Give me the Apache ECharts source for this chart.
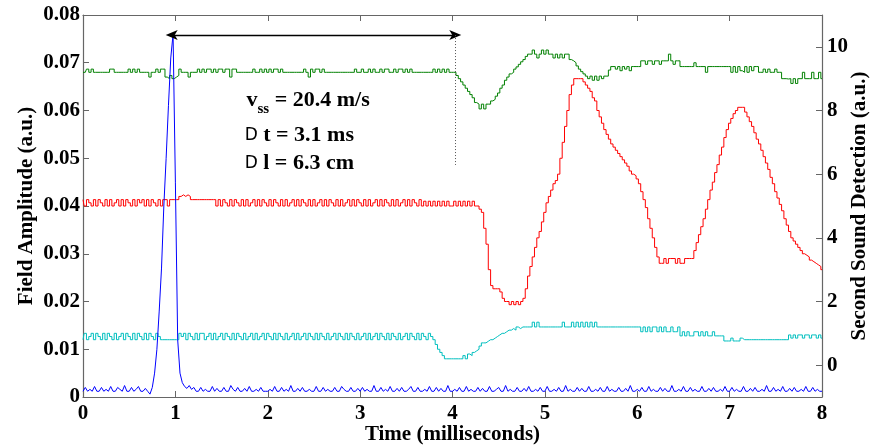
<!DOCTYPE html>
<html><head><meta charset="utf-8">
<script src="https://cdn.jsdelivr.net/npm/echarts@6/dist/echarts.min.js"></script>
<style>html,body{margin:0;padding:0;background:#fff}#c{width:882px;height:447px}</style>
</head><body><div id="c"></div>
<script>
const sampleStep_ms = 0.025;
const xTickValues = [0,1,2,3,4,5,6,7,8];
const rightTickValues = [0,2,4,6,8,10];

// Field amplitude (left axis), in units of 1e-3 a.u.
const fieldAmp_milli = [
1.2,2,1.2,1.6,1.2,2.2,1.2,1.2,2,1.2, 1.6,1.2,2.2,1.2,1.2,2,1.6,1.2,2.4,1.2, 1.2,2,1.2,1.6,2.2,1.2,1.2,1.8,1.2,0.6, 2,5,10,18,27,40,50,61,71,76,
45,12,5,3,2.2,1.8,2.4,1.6,2,1.2, 1.2,2,1.2,1.6,1.2,1.2,2.2,1.2,1.8,1.2, 1.2,2,1.2,1.2,2.4,1.6,1.2,2,1.2,1.2, 1.8,1.2,2.2,1.2,1.2,1.6,1.2,2,1.2,1.2,
1.2,1.6,1.2,2.2,1.2,1.2,2,1.2,1.6,1.2, 2.4,1.2,1.2,1.8,1.2,2,1.2,1.2,1.6,1.2, 1.2,2.2,1.2,1.2,2,1.2,1.6,1.2,1.2,2, 1.2,1.2,2.2,1.6,1.2,1.2,2,1.2,1.2,1.8,
1.2,2,1.2,1.6,1.2,1.2,2.4,1.2,1.2,2, 1.2,1.6,1.2,2.2,1.2,1.2,1.8,1.2,2,1.2, 1.2,1.6,2.2,1.2,1.2,2,1.2,1.2,1.6,1.2, 2.2,1.2,1.2,2,1.2,1.8,1.2,1.2,2.4,1.2,
1.2,1.6,1.2,2,1.2,1.2,2.2,1.2,1.6,1.2, 1.2,2,1.2,1.8,1.2,1.2,2.2,1.2,1.2,1.6, 2,1.2,1.2,2.4,1.2,1.6,1.2,1.2,2,1.2, 1.2,1.8,1.2,2.2,1.2,1.2,1.6,1.2,2,1.2,
1.2,2.2,1.2,1.2,1.6,1.2,2,1.2,1.2,2.4, 1.2,1.6,1.2,1.2,2,1.2,1.8,1.2,1.2,2.2, 1.2,1.2,1.6,1.2,2,1.2,1.2,2.2,1.2,1.6, 1.2,1.2,2,1.2,1.2,1.8,1.2,2.4,1.2,1.2,
1.6,1.2,2,1.2,1.2,2.2,1.2,1.6,1.2,1.2, 2,1.2,1.8,1.2,1.2,2.4,1.2,1.2,1.6,1.2, 2.2,1.2,1.2,2,1.2,1.6,1.2,1.2,2.2,1.2, 1.2,1.8,1.2,2,1.2,1.2,1.6,1.2,2.2,1.2,
1.2,2,1.2,1.6,1.2,1.2,2.2,1.2,1.2,1.8, 1.2,2,1.2,1.2,1.6,1.2,2.4,1.2,1.2,2, 1.2,1.6,1.2,2.2,1.2,1.2,1.8,1.2,2,1.2, 1.2,1.6,1.2,2.2,1.2,1.2,2,1.2,1.6,1.2,
1.2];

// Second sound detection (right axis)
const greenTrace = [
9.2,9.2,9.3,9.2,9.3,9.2,9.2,9.2,9.2,9.2, 9.2,9.2,9.3,9.3,9.2,9.2,9.2,9.2,9.2,9.2, 9.3,9.2,9.3,9.2,9.3,9.2,9.2,9.2,9.2,9.05, 9.2,9.2,9.3,9.2,9.3,9.3,9.05,9.0,9.1,9.0,
9.05,9.1,9.3,9.2,9.2,9.2,9.05,9.2,9.2,9.2, 9.3,9.2,9.3,9.2,9.3,9.3,9.2,9.3,9.2,9.3, 9.3,9.2,9.3,9.3,9.05,9.3,9.3,9.2,9.2,9.2, 9.2,9.2,9.2,9.2,9.3,9.2,9.2,9.3,9.2,9.3,
9.2,9.3,9.2,9.3,9.3,9.2,9.3,9.2,9.2,9.2, 9.2,9.2,9.2,9.2,9.2,9.2,9.3,9.2,9.05,9.3, 9.2,9.3,9.3,9.2,9.3,9.2,9.2,9.2,9.2,9.2, 9.2,9.2,9.2,9.2,9.2,9.2,9.2,9.2,9.3,9.2,
9.2,9.3,9.2,9.2,9.3,9.2,9.3,9.2,9.2,9.3, 9.2,9.3,9.3,9.2,9.2,9.3,9.2,9.3,9.3,9.2, 9.3,9.2,9.3,9.2,9.2,9.2,9.2,9.2,9.2,9.2, 9.2,9.2,9.3,9.2,9.3,9.2,9.3,9.2,9.3,9.2,
9.2,9.2,9.1,9.0,8.9,8.8,8.7,8.6,8.5,8.4, 8.25,8.2,8.05,8.2,8.05,8.2,8.2,8.3,8.35,8.45, 8.55,8.7,8.8,8.95,9.05,9.15,9.2,9.3,9.37,9.45, 9.53,9.6,9.7,9.77,9.77,9.9,9.77,9.65,9.77,9.9,
9.77,9.9,9.77,9.77,9.65,9.77,9.65,9.77,9.65,9.77, 9.77,9.6,9.56,9.5,9.4,9.3,9.22,9.15,9.08,9.0, 9.08,8.95,9.08,8.95,9.08,9.0,9.08,9.08,9.27,9.38, 9.38,9.3,9.38,9.25,9.38,9.3,9.38,9.25,9.38,9.38,
9.38,9.38,9.56,9.56,9.45,9.56,9.56,9.45,9.56,9.56, 9.45,9.56,9.56,9.56,9.77,9.56,9.45,9.56,9.56,9.38, 9.38,9.38,9.38,9.38,9.38,9.5,9.38,9.38,9.38,9.38, 9.2,9.38,9.38,9.38,9.38,9.38,9.38,9.38,9.38,9.38,
9.38,9.2,9.38,9.2,9.38,9.25,9.2,9.38,9.2,9.38, 9.25,9.38,9.38,9.2,9.2,9.3,9.2,9.3,9.2,9.2, 9.3,9.2,9.2,9.0,9.0,8.99,9.0,8.85,9.0,8.85, 9.0,9.0,9.2,9.0,9.0,9.0,9.2,9.0,9.0,9.2,
9.0];

const redTrace = [
5.2,5.0,5.2,5.1,5.0,5.2,5.0,5.2,5.1,5.0, 5.2,5.0,5.2,5.0,5.1,5.2,5.0,5.2,5.0,5.2, 5.1,5.0,5.2,5.0,5.2,5.1,5.2,5.0,5.2,5.0, 5.2,5.1,5.0,5.2,5.0,5.2,5.2,5.0,5.2,5.2,
5.2,5.2,5.3,5.35,5.3,5.35,5.3,5.2,5.2,5.2, 5.2,5.2,5.2,5.2,5.2,5.2,5.2,5.2,5.0,5.2, 5.0,5.2,5.1,5.0,5.2,5.0,5.2,5.1,5.0,5.2, 5.0,5.2,5.0,5.1,5.2,5.0,5.2,5.0,5.2,5.1,
5.0,5.2,5.0,5.2,5.1,5.0,5.2,5.0,5.2,5.0, 5.1,5.2,5.0,5.2,5.0,5.2,5.1,5.0,5.2,5.0, 5.2,5.0,5.1,5.2,5.0,5.2,5.0,5.2,5.1,5.0, 5.2,5.0,5.2,5.0,5.1,5.2,5.0,5.2,5.0,5.2,
5.1,5.0,5.2,5.0,5.2,5.0,5.1,5.2,5.0,5.2, 5.0,5.2,5.1,5.0,5.2,5.0,5.2,5.0,5.1,5.2, 5.0,5.2,5.0,5.2,5.1,5.0,5.2,5.0,5.15,5.0, 5.15,5.0,5.15,5.0,5.15,5.0,5.15,5.0,5.15,5.0,
5.0,5.15,5.0,5.15,5.0,5.15,5.0,5.15,5.0,5.15, 5.0,5.0,4.9,4.8,4.3,3.8,3.0,2.5,2.4,2.4, 2.4,2.3,2.1,2.0,2.0,1.9,2.0,1.9,2.0,1.9, 2.0,2.1,2.4,2.8,3.1,3.4,3.7,4.0,4.2,4.5,
4.8,5.1,5.3,5.5,5.7,5.8,6.0,6.5,7.0,7.5, 8.0,8.5,8.8,9.0,9.0,9.0,9.0,8.9,8.8,8.7, 8.6,8.4,8.3,8.0,7.8,7.6,7.4,7.25,7.1,6.95, 6.85,6.75,6.65,6.55,6.45,6.35,6.25,6.1,6.0,5.95,
5.85,5.7,5.45,5.2,4.95,4.6,4.3,4.0,3.7,3.4, 3.2,3.2,3.35,3.2,3.35,3.35,3.35,3.2,3.35,3.2, 3.2,3.35,3.35,3.35,3.35,3.6,3.85,4.1,4.35,4.6, 4.9,5.2,5.5,5.75,6.05,6.3,6.6,6.85,7.15,7.4,
7.6,7.75,7.9,8.0,8.1,8.1,8.1,7.95,7.8,7.65, 7.5,7.3,7.1,6.95,6.75,6.55,6.35,6.15,5.9,5.7, 5.45,5.25,5.05,4.85,4.6,4.4,4.2,4.0,3.9,3.8, 3.7,3.6,3.5,3.45,3.4,3.3,3.25,3.2,3.15,3.1,
3.0];

const cyanTrace = [
0.8,1.0,0.8,0.9,1.0,0.8,1.0,0.9,0.8,1.0, 0.8,1.0,0.9,0.8,1.0,0.8,0.9,1.0,0.8,1.0, 0.9,0.8,1.0,0.8,1.0,0.9,0.8,1.0,0.8,1.0, 0.9,0.8,1.0,0.9,0.8,0.8,0.8,0.8,0.8,0.8,
0.8,0.8,1.0,0.9,1.0,0.8,1.0,0.9,0.8,1.0, 0.8,1.0,1.0,0.8,0.9,1.0,0.8,1.0,0.8,0.9, 1.0,0.8,1.0,0.9,0.8,1.0,0.8,1.0,0.9,0.8, 1.0,0.8,0.9,1.0,0.8,1.0,0.8,0.9,1.0,0.8,
1.0,0.9,0.8,1.0,0.8,1.0,0.9,0.8,1.0,0.8, 0.9,1.0,0.8,1.0,0.8,0.9,1.0,0.8,1.0,0.9, 0.8,1.0,0.8,1.0,0.9,0.8,1.0,0.8,0.9,1.0, 0.8,1.0,0.9,0.8,1.0,0.8,1.0,0.9,0.8,1.0,
0.8,0.9,1.0,0.8,1.0,0.8,0.9,1.0,0.8,1.0, 0.9,0.8,1.0,0.8,1.0,0.9,0.8,1.0,0.8,0.9, 1.0,0.8,1.0,0.9,0.8,1.0,0.8,1.0,0.9,0.8, 1.0,0.9,0.8,0.65,0.5,0.4,0.3,0.2,0.2,0.2,
0.2,0.2,0.2,0.2,0.2,0.3,0.2,0.35,0.3,0.4, 0.45,0.5,0.6,0.7,0.7,0.75,0.8,0.8,0.85,0.9, 0.95,1.0,1.0,1.05,1.1,1.1,1.15,1.1,1.2,1.15, 1.2,1.2,1.2,1.2,1.2,1.35,1.2,1.35,1.2,1.2,
1.2,1.2,1.2,1.2,1.2,1.2,1.2,1.2,1.35,1.2, 1.2,1.2,1.35,1.2,1.35,1.2,1.35,1.2,1.35,1.2, 1.35,1.2,1.35,1.2,1.2,1.2,1.2,1.2,1.2,1.2, 1.2,1.2,1.2,1.2,1.2,1.2,1.2,1.2,1.2,1.2,
1.2,1.2,1.05,1.2,1.05,1.2,1.05,1.2,1.2,1.05, 1.2,1.05,1.2,1.05,1.05,1.2,1.05,1.05,1.2,0.92, 1.05,0.92,1.05,0.92,0.92,1.05,1.05,0.92,1.05,0.92, 1.05,0.92,0.92,1.05,0.92,0.92,0.92,0.92,0.76,0.76,
0.76,0.85,0.76,0.76,0.76,0.85,0.8,0.8,0.8,0.8, 0.8,0.8,0.8,0.8,0.8,0.8,0.8,0.8,0.8,0.8, 0.8,0.8,0.8,0.8,0.8,0.8,0.95,0.85,0.95,0.85, 0.95,0.95,0.85,0.95,0.95,0.85,0.95,0.95,0.85,0.95,
0.85];

// annotation (data coordinates on the left axis)
const arrowFrom = [0.96, 0.0758];
const arrowTo = [4.03, 0.0758];
const dottedFrom = [4.03, 0.0758];
const dottedTo = [4.03, 0.0486];
const noteAnchor = [1.77, 0.0622];
const noteLine2 = [1.75, 0.0548];
const noteLine3 = [1.75, 0.0489];
const leftMinTick = [0, 0];

function pairs(vals, scale) {
  return vals.map((v, i) => [+(i * sampleStep_ms).toFixed(3), v * scale]);
}

const chart = echarts.init(document.getElementById('c'));
const serif = '"Liberation Serif","Times New Roman",serif';
const axisCol = '#666';
const arrowHead = 'path://M5,0 L10,12 L5,9 L0,12 Z';

const lineDefaults = {type:'line', symbol:'none', animation:false, silent:true};

chart.setOption({
  animation: false,
  grid: {left: 83, right: 60, top: 15, bottom: 50, containLabel: false, outerBoundsMode: 'none'},
  xAxis: [{
    type: 'value', min: 0, max: 8, interval: 1, position: 'bottom',
    axisLine: {show: true, onZero: false, lineStyle: {color: axisCol, width: 1.2}},
    axisTick: {show: true, inside: true, length: 6, lineStyle: {color: axisCol}},
    axisLabel: {color: '#000', fontFamily: serif, fontWeight: 'bold', fontSize: 21, margin: 6},
    splitLine: {show: false},
    name: 'Time (milliseconds)', nameLocation: 'middle', nameGap: 27, nameMoveOverlap: false,
    nameTextStyle: {color: '#000', fontFamily: serif, fontWeight: 'bold', fontSize: 21}
  }, {
    type: 'value', min: 0, max: 8, interval: 1, position: 'top',
    axisLine: {show: true, onZero: false, lineStyle: {color: axisCol, width: 1.2}},
    axisTick: {show: true, inside: true, length: 6, lineStyle: {color: axisCol}},
    axisLabel: {show: false}, splitLine: {show: false}
  }],
  yAxis: [{
    type: 'value', min: 0, max: 0.08, interval: 0.01, position: 'left',
    axisLine: {show: true, onZero: false, lineStyle: {color: axisCol, width: 1.2}},
    axisTick: {show: true, inside: true, length: 6, lineStyle: {color: axisCol}},
    axisLabel: {color: '#000', fontFamily: serif, fontWeight: 'bold', fontSize: 21, margin: 3,
      showMinLabel: false,
      formatter: v => (Math.abs(v) < 1e-9 ? '0' : v.toFixed(2))},
    splitLine: {show: false},
    name: 'Field Amplitude (a.u.)', nameLocation: 'middle', nameGap: 46, nameRotate: 90, nameMoveOverlap: false,
    nameTextStyle: {color: '#000', fontFamily: serif, fontWeight: 'bold', fontSize: 21}
  }, {
    type: 'value', min: -1, max: 11, interval: 1, position: 'right',
    axisLine: {show: true, onZero: false, lineStyle: {color: axisCol, width: 1.2}},
    axisTick: {show: true, inside: true, length: 6, lineStyle: {color: axisCol}, customValues: rightTickValues},
    axisLabel: {color: '#000', fontFamily: serif, fontWeight: 'bold', fontSize: 21, margin: 5,
      customValues: rightTickValues,
      formatter: v => (rightTickValues.indexOf(Math.round(v)) >= 0 && Math.abs(v - Math.round(v)) < 1e-6 ? String(Math.round(v)) : '')},
    splitLine: {show: false},
    name: 'Second Sound Detection (a.u.)', nameLocation: 'middle', nameGap: 27, nameRotate: 90, nameMoveOverlap: false,
    nameTextStyle: {color: '#000', fontFamily: serif, fontWeight: 'bold', fontSize: 21}
  }],
  series: [
    Object.assign({}, lineDefaults, {name: 'cyan', xAxisIndex: 0, yAxisIndex: 1, step: 'middle',
      data: pairs(cyanTrace, 1), lineStyle: {color: '#00bfbf', width: 1}}),
    Object.assign({}, lineDefaults, {name: 'red', xAxisIndex: 0, yAxisIndex: 1, step: 'middle',
      data: pairs(redTrace, 1), lineStyle: {color: '#ff0000', width: 1}}),
    Object.assign({}, lineDefaults, {name: 'green', xAxisIndex: 0, yAxisIndex: 1, step: 'middle',
      data: pairs(greenTrace, 1), lineStyle: {color: '#008000', width: 1}}),
    Object.assign({}, lineDefaults, {name: 'field', xAxisIndex: 0, yAxisIndex: 0,
      data: pairs(fieldAmp_milli, 0.001), lineStyle: {color: '#0000ff', width: 1},
      markLine: {
        silent: true, animation: false, label: {show: false},
        data: [
          [{coord: arrowFrom, symbol: arrowHead, symbolSize: [10, 12], lineStyle: {color: '#000', width: 1.3, type: 'solid'}},
           {coord: arrowTo, symbol: arrowHead, symbolSize: [10, 12], lineStyle: {color: '#000', width: 1.3, type: 'solid'}}],
          [{coord: dottedFrom, symbol: 'none', lineStyle: {color: '#555', width: 1, type: [1, 2]}},
           {coord: dottedTo, symbol: 'none', lineStyle: {color: '#555', width: 1, type: [1, 2]}}]
        ]
      }})
  ]
});

function px(c) { return chart.convertToPixel({xAxisIndex: 0, yAxisIndex: 0}, c); }
const p1 = px(noteAnchor), p2 = px(noteLine2), p3 = px(noteLine3), p0 = px(leftMinTick);
const richStyles = {
  b: {fontFamily: serif, fontWeight: 'bold', fontSize: 22, color: '#000', lineHeight: 34, verticalAlign: 'middle'},
  s: {fontFamily: serif, fontWeight: 'bold', fontSize: 15, color: '#000', lineHeight: 15, verticalAlign: 'bottom'},
  d: {fontFamily: '"DejaVu Sans",sans-serif', fontWeight: 'normal', fontSize: 17, color: '#444', lineHeight: 34, verticalAlign: 'middle'}
};
chart.setOption({
  graphic: [
    {type: 'text', x: p1[0], y: p1[1], silent: true,
      style: {text: '{b|v}{s|ss}{b| = 20.4 m/s}', rich: richStyles, verticalAlign: 'middle', align: 'left'}},
    {type: 'text', x: p2[0], y: p2[1], silent: true,
      style: {text: '{d|D}{b| t = 3.1 ms}', rich: richStyles, verticalAlign: 'middle', align: 'left'}},
    {type: 'text', x: p3[0], y: p3[1], silent: true,
      style: {text: '{d|D}{b| l = 6.3 cm}', rich: richStyles, verticalAlign: 'middle', align: 'left'}},
    // left-axis minimum tick label, kept at its tick like the original
    {type: 'text', x: p0[0] - 3, y: p0[1], silent: true,
      style: {text: '0', fontFamily: serif, fontWeight: 'bold', fontSize: 21, fill: '#000', align: 'right', verticalAlign: 'middle'}}
  ]
});
</script></body></html>
